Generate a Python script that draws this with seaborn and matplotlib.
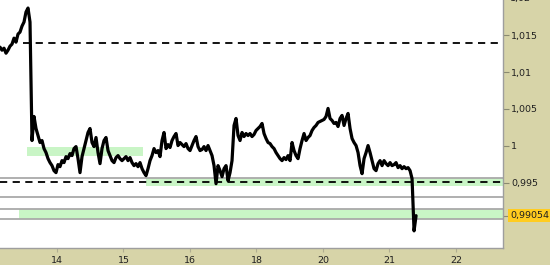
import numpy as np
import pandas as pd
import matplotlib
matplotlib.use("Agg")
import matplotlib.pyplot as plt
from matplotlib.patches import Rectangle
import seaborn as sns

# ---------------- data ----------------
day_labels = ["14", "15", "16", "18", "20", "21", "22"]
day_positions = [0, 1, 2, 3, 4, 5, 6]

price = [
    1.01337, 1.01296, 1.01323, 1.01255, 1.01296, 1.01350, 1.01378, 1.01459, 1.01405, 1.01514,
    1.01541, 1.01622, 1.01677, 1.01813, 1.01867, 1.01677, 1.00072, 1.00398, 1.00235, 1.00140,
    1.00045, 1.00072, 0.99963, 0.99909, 0.99827, 0.99773, 0.99732, 0.99664, 0.99637, 0.99746,
    0.99718, 0.99800, 0.99773, 0.99854, 0.99827, 0.99895, 0.99868, 0.99963, 0.99990, 0.99827,
    0.99637, 0.99854, 0.99963, 1.00072, 1.00181, 1.00235, 1.00045, 0.99990, 1.00113, 0.99909,
    0.99759, 0.99963, 1.00072, 1.00113, 0.99936, 0.99868, 0.99800, 0.99773, 0.99841, 0.99868,
    0.99827, 0.99800, 0.99827, 0.99854, 0.99800, 0.99841, 0.99773, 0.99732, 0.99759, 0.99718,
    0.99773, 0.99691, 0.99637, 0.99596, 0.99691, 0.99800, 0.99868, 0.99963, 0.99909, 0.99936,
    0.99854, 1.00072, 1.00181, 0.99963, 1.00017, 0.99977, 1.00072, 1.00126, 1.00167, 1.00004,
    1.00045, 1.00017, 0.99990, 1.00031, 0.99963, 0.99936, 1.00004, 1.00072, 1.00126, 0.99990,
    0.99936, 0.99950, 0.99990, 0.99936, 1.00004, 0.99936, 0.99868, 0.99732, 0.99487, 0.99732,
    0.99664, 0.99582, 0.99691, 0.99732, 0.99528, 0.99637, 0.99800, 1.00276, 1.00371, 1.00140,
    1.00072, 1.00181, 1.00126, 1.00167, 1.00140, 1.00167, 1.00126, 1.00154, 1.00208, 1.00235,
    1.00262, 1.00303, 1.00167, 1.00099, 1.00045, 1.00031, 0.99990, 0.99963, 0.99909, 0.99868,
    0.99827, 0.99800, 0.99841, 0.99814, 0.99868, 0.99800, 1.00045, 0.99936, 0.99868, 0.99827,
    0.99963, 1.00072, 1.00167, 1.00072, 1.00113, 1.00140, 1.00208, 1.00249, 1.00276, 1.00317,
    1.00330, 1.00344, 1.00358, 1.00398, 1.00507, 1.00371, 1.00344, 1.00303, 1.00317, 1.00262,
    1.00371, 1.00412, 1.00276, 1.00371, 1.00439, 1.00235, 1.00099, 1.00045, 1.00004, 0.99909,
    0.99732, 0.99623, 0.99827, 0.99909, 1.00004, 0.99909, 0.99800, 0.99691, 0.99664, 0.99759,
    0.99800, 0.99732, 0.99800, 0.99759, 0.99732, 0.99773, 0.99732, 0.99746, 0.99773, 0.99705,
    0.99732, 0.99691, 0.99718, 0.99691, 0.99705, 0.99664, 0.99555, 0.98848, 0.99054,
]
series_start = -0.857   # day units (tick "14" = 0)
series_step = 0.03008   # day units between samples

last_price = 0.99054
last_label = "0,99054"

ytick_values = [1.015, 1.01, 1.005, 1.0, 0.995]
ytick_labels = ["1,015", "1,01", "1,005", "1", "0,995"]

# support / resistance levels
dashed_levels = [1.01391, 0.99513]
dashed_starts = [-0.511, -0.857]
gray_levels = [0.99564, 0.99305, 0.99142, 0.99006]
band_lows = [0.99865, 0.99450, 0.99006]
band_highs = [0.99990, 0.99564, 0.99142]
band_starts = [-0.451, 1.338, -0.571]
band_ends = [1.293, 6.707, 6.707]

x_min, x_max = -0.857, 6.707
y_min, y_max = 0.98616, 1.01976

# ---------------- style ----------------
sns.set_style("white")
plt.rcParams["font.family"] = ["DejaVu Sans"]

khaki = "#D7D4A8"
green = "#C9F5C6"
grid_gray = "#A9A9A9"

fig = plt.figure(figsize=(5.5, 2.65), dpi=100, facecolor=khaki)
W, H = 550, 265
ax = fig.add_axes([0, 17 / H, 503 / W, 248 / H])
ax.set_facecolor("white")

for lo, hi, s, e in zip(band_lows, band_highs, band_starts, band_ends):
    ax.fill_between([s, e], lo, hi, color=green, lw=0, zorder=1)

for lv in gray_levels:
    ax.axhline(lv, color=grid_gray, lw=1.3, zorder=2)

for lv, s in zip(dashed_levels, dashed_starts):
    ax.plot([s, x_max], [lv, lv], color="black", lw=1.3, dashes=(4, 3), zorder=3)

t = series_start + series_step * np.arange(len(price))
df = pd.DataFrame({"t": t, "price": price})
sns.lineplot(data=df, x="t", y="price", ax=ax, color="black", lw=2.3,
             estimator=None, sort=False, zorder=4)

ax.set_xlim(x_min, x_max)
ax.set_ylim(y_min, y_max)
ax.set_xlabel("")
ax.set_ylabel("")

ax.yaxis.tick_right()
ax.set_yticks(ytick_values + [last_price])
ax.set_yticklabels(ytick_labels + [""])
ax.tick_params(axis="y", which="both", right=True, length=4, width=0.8,
               color="#8A8A70", labelsize=6.8, pad=2, labelcolor="#202020")
ax.set_xticks(day_positions)
ax.set_xticklabels(day_labels)
ax.tick_params(axis="x", bottom=True, length=3, width=0.8, color="#B0AD90",
               labelsize=6.8, pad=3, labelcolor="#202020")

for side in ["left", "top"]:
    ax.spines[side].set_visible(False)
for side in ["right", "bottom"]:
    ax.spines[side].set_color("#9E9E9E")
    ax.spines[side].set_linewidth(1.0)

# partially visible top label
fig.text(510 / W, 1 - (-1) / H, "1,02", fontsize=6.8, color="#202020",
         ha="left", va="center")

# last price marker box
fig.patches.append(Rectangle((508 / W, (H - 222) / H), 42 / W, 13 / H,
                             transform=fig.transFigure, facecolor="#FFCC1F",
                             edgecolor="none", zorder=5))
fig.text(510 / W, (H - 215.5) / H, last_label, fontsize=6.8, color="#202020",
         ha="left", va="center", zorder=6)

fig.savefig("out.png", dpi=100, facecolor=khaki)
